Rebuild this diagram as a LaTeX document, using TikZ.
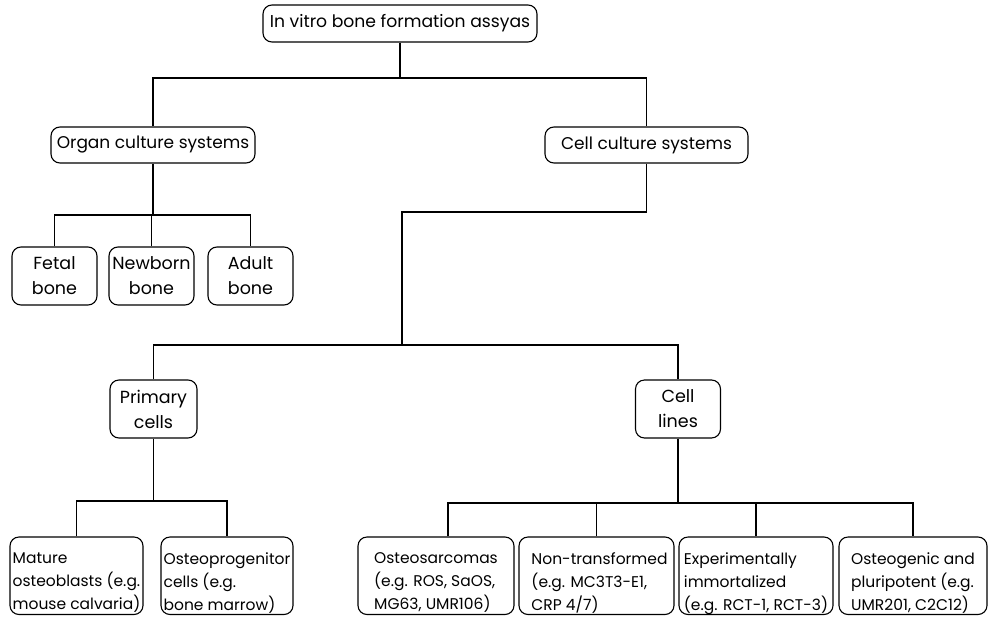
\documentclass[tikz,border=0pt]{standalone}
\usepackage{fontspec}
\setmainfont{Poppins}
\begin{document}
\begin{tikzpicture}[x=1pt,y=-1pt,line width=1.1pt,
  box/.style={draw,rounded corners=9pt,inner sep=0pt,align=center,font=\fontsize{17}{25}\selectfont},
  mbox/.style={box,minimum height=58pt,font=\fontsize{17.5}{25}\selectfont},
  bbox/.style={draw,rounded corners=9pt,inner sep=0pt,minimum height=77.5pt},
  btext/.style={inner sep=0pt,align=left,anchor=north,font=\fontsize{15.5}{23}\selectfont}]
\useasboundingbox (0,0) rectangle (990,616);
% level 0
\node[box,minimum width=274pt,minimum height=37pt,font=\fontsize{17.2}{25}\selectfont] (root) at (400,23.5) {In vitro bone formation assyas};
% level 1
\node[box,minimum width=204pt,minimum height=36pt] (organ) at (153,145) {Organ culture systems};
\node[box,minimum width=203pt,minimum height=36pt] (cell) at (646.5,145) {Cell culture systems};
% organ children
\node[mbox,minimum width=85pt] (fetal) at (54.5,276) {Fetal\\bone};
\node[mbox,minimum width=85pt] (newborn) at (151.5,276) {Newborn\\bone};
\node[mbox,minimum width=85pt] (adult) at (250.5,276) {Adult\\bone};
% cell children
\node[mbox,minimum width=87pt] (prim) at (153.5,409) {Primary\\cells};
\node[mbox,minimum width=85pt] (lines) at (678,409) {Cell\\lines};
% bottom boxes
\node[bbox,minimum width=133pt] (mat) at (76.5,575.75) {};
\node[bbox,minimum width=132pt] (osp) at (227,575.75) {};
\node[bbox,minimum width=156pt] (osa) at (436,575.75) {};
\node[bbox,minimum width=155pt] (ntr) at (596.5,575.75) {};
\node[bbox,minimum width=154pt] (exi) at (756,575.75) {};
\node[bbox,minimum width=148pt] (ogp) at (913,575.75) {};
\node[btext] (matt) at ([shift={(0,16)}]mat.north) {Mature\\osteoblasts (e.g.\\mouse calvaria)};
\node[btext] (ospt) at ([shift={(0,16)}]osp.north) {Osteoprogenitor\\cells (e.g.\\bone marrow)};
\node[btext] (osat) at ([shift={(0,16)}]osa.north) {Osteosarcomas\\(e.g. ROS, SaOS,\\MG63, UMR106)};
\node[btext] (ntrt) at ([shift={(3,16)}]ntr.north) {Non-transformed\\(e.g. MC3T3-E1,\\CRP 4/7)};
\node[btext] (exit) at ([shift={(0,16)}]exi.north) {Experimentally\\immortalized\\(e.g. RCT-1, RCT-3)};
\node[btext] (ogpt) at ([shift={(0,16)}]ogp.north) {Osteogenic and\\pluripotent (e.g.\\UMR201, C2C12)};
% connectors
\coordinate (j0) at (400,78);
\draw (root.south) -- (root.south |- j0);
\draw (organ.north) |- (cell.north |- j0) -- (cell.north);
\coordinate (j1) at (0,215);
\draw (organ.south) -- (organ.south |- j1);
\draw (fetal.north) |- (adult.north |- j1) -- (adult.north);
\draw (newborn.north) -- (newborn.north |- j1);
\coordinate (c1) at (402,212);
\coordinate (c2) at (402,345);
\draw (cell.south) |- (c1) -- (c2);
\draw (prim.north) |- (lines.north |- c2) -- (lines.north);
\coordinate (j2) at (0,501);
\draw (prim.south) -- (prim.south |- j2);
\draw (mat.north) |- (osp.north |- j2) -- (osp.north);
\coordinate (j3) at (0,503);
\draw (lines.south) -- (lines.south |- j3);
\draw ([xshift=12pt]osa.north) |- (ogp.north |- j3) -- (ogp.north);
\draw (ntr.north) -- (ntr.north |- j3);
\draw (exi.north) -- (exi.north |- j3);
\end{tikzpicture}
\end{document}
